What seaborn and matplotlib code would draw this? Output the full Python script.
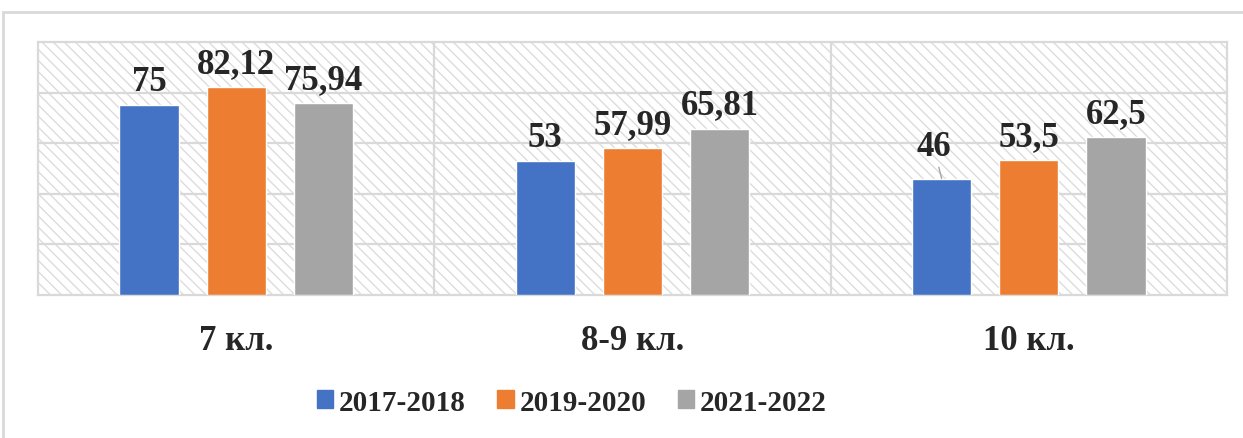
import matplotlib
matplotlib.use("Agg")
import matplotlib.pyplot as plt
import matplotlib.patches as mpatches
import pandas as pd
import seaborn as sns

classes = ["7 кл.", "8-9 кл.", "10 кл."]
years = ["2017-2018", "2019-2020", "2021-2022"]
vals_2017 = [75, 53, 46]
vals_2019 = [82.12, 57.99, 53.5]
vals_2021 = [75.94, 65.81, 62.5]
colors = ["#4472C4", "#ED7D31", "#A5A5A5"]

rows = []
for year, vals in zip(years, [vals_2017, vals_2019, vals_2021]):
    for cls, v in zip(classes, vals):
        rows.append({"class": cls, "year": year, "value": v})
df = pd.DataFrame(rows)


def fmt(v):
    return f"{v:g}".replace(".", ",")


sns.set_style("white")
plt.rcParams["font.family"] = ["Liberation Serif", "DejaVu Serif"]
plt.rcParams["font.weight"] = "bold"
plt.rcParams["hatch.linewidth"] = 1.0

fig = plt.figure(figsize=(12.43, 4.39), dpi=100)
ax = fig.add_axes([38 / 1243, 1 - 296 / 439, (1227 - 38) / 1243, (296 - 43) / 439])

# hatched background of the plot area
ax.add_patch(mpatches.Rectangle((0, 0), 1, 1, transform=ax.transAxes,
                                facecolor="white", edgecolor="#dcdcdc",
                                hatch="\\\\\\", lw=0, zorder=0))

sns.barplot(data=df, x="class", y="value", hue="year", palette=colors,
            width=0.66, gap=0.32, saturation=1, legend=False, ax=ax, zorder=3)

ax.set_ylim(0, 100)
ax.set_xlim(-0.5, 2.5)
ax.set_yticks([20, 40, 60, 80])
ax.set_yticklabels([])
for y in [20, 40, 60, 80]:
    ax.axhline(y, color="#d9d9d9", lw=1.6, zorder=1)
for x in [0.5, 1.5]:
    ax.axvline(x, color="#d9d9d9", lw=1.6, zorder=1)
for s in ax.spines.values():
    s.set_color("#d9d9d9")
    s.set_linewidth(1.6)
ax.set_xlabel("")
ax.set_ylabel("")
ax.tick_params(axis="x", length=0, pad=21, labelsize=25)
ax.tick_params(axis="y", length=0)
for t in ax.get_xticklabels():
    t.set_fontweight("bold")

# value labels
for cont, vals in zip(ax.containers, [vals_2017, vals_2019, vals_2021]):
    labels = [fmt(v) for v in vals]
    if vals is vals_2017:
        labels[2] = ""
    ax.bar_label(cont, labels=labels, padding=5, fontsize=25, fontweight="bold")

bar46 = ax.containers[0].patches[2]
ax.annotate(fmt(vals_2017[2]),
            xy=(bar46.get_x() + bar46.get_width() / 2, bar46.get_height()),
            xytext=(-8, 24), textcoords="offset pixels",
            ha="center", va="baseline", fontsize=25, fontweight="bold",
            arrowprops=dict(arrowstyle="-", color="#a6a6a6", lw=1,
                            shrinkA=1, shrinkB=0))

handles = [mpatches.Patch(color=c, label=y) for c, y in zip(colors, years)]
fig.legend(handles=handles, loc="center", bbox_to_anchor=(0.46, 0.082),
           ncol=3, frameon=False, prop={"size": 21, "weight": "bold"},
           handlelength=0.55, handleheight=0.55, handletextpad=0.2,
           columnspacing=1.1)

# outer chart frame
fig.patches.append(mpatches.Rectangle((3 / 1243, -0.01), 1.0, 0.97 + 0.01,
                                      transform=fig.transFigure, fill=False,
                                      edgecolor="#d9d9d9", lw=2))

fig.savefig("out.png", dpi=100)
